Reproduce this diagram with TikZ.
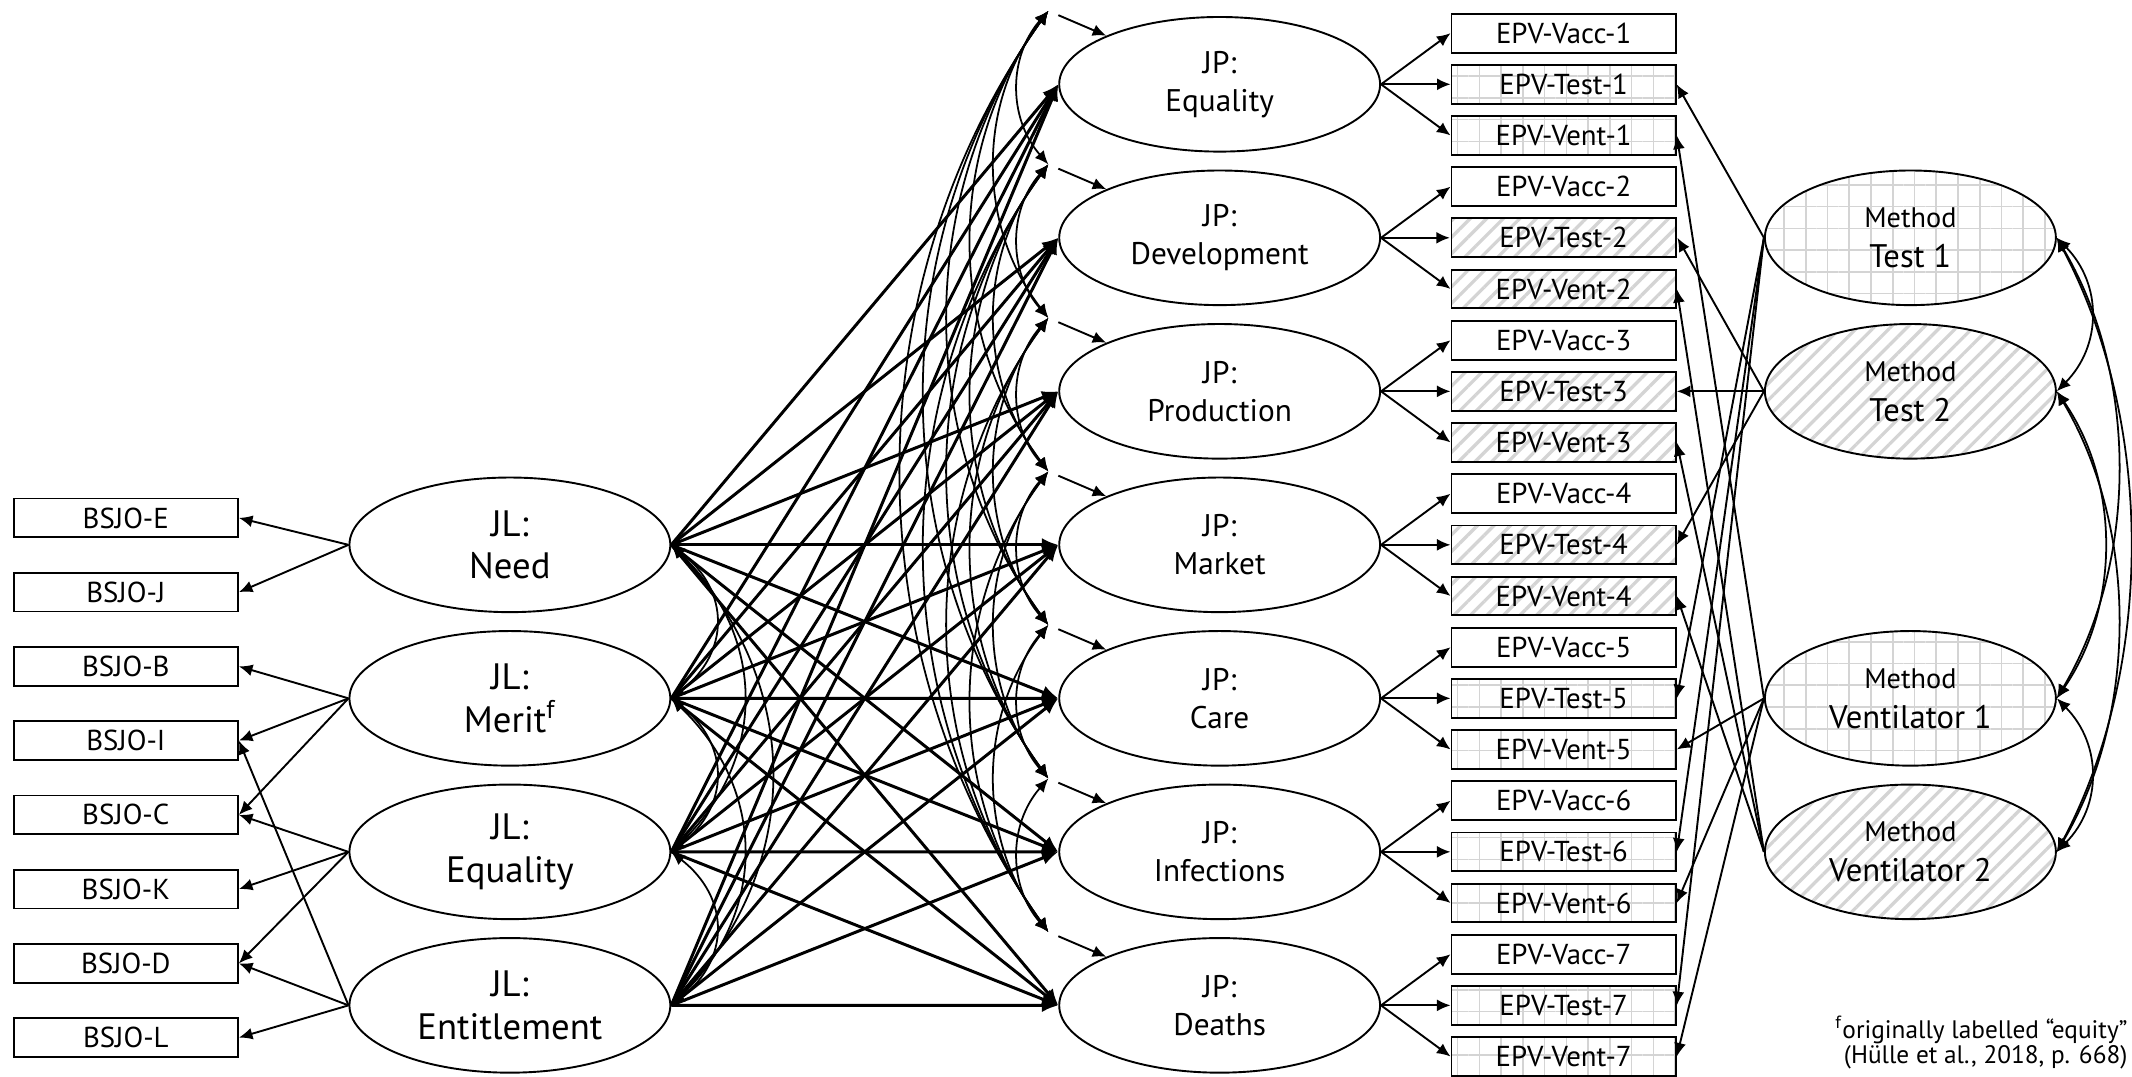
\documentclass[tikz,border=0pt]{standalone}
\usepackage{fontspec}
\setmainfont{PT Sans}
\usetikzlibrary{arrows.meta,shapes.geometric,patterns.meta}
\tikzset{
  mytip/.tip={Latex[length=5pt,width=4.4pt]},
  bigtip/.tip={Latex[length=6pt,width=5pt]},
  lat/.style={ellipse, draw, line width=0.7pt, minimum width=118pt, minimum height=49.5pt, inner sep=0pt, align=center, fill=white},
  jlfont/.style={font=\fontsize{13.5}{15.7}\selectfont},
  jpfont/.style={font=\fontsize{11.5}{14}\selectfont},
  mfont/.style={font=\fontsize{12}{14.7}\selectfont},
  obs/.style={rectangle, draw, line width=0.7pt, minimum width=82.5pt, minimum height=14.25pt, inner sep=0pt, font=\fontsize{10.6}{12}\selectfont, fill=white},
  gridfill/.style={pattern={Hatch[angle=0,distance=8pt,line width=0.6pt]}, pattern color=black!17},
  hatchfill/.style={pattern={Lines[angle=45,distance=4.3pt,line width=1.2pt]}, pattern color=black!17},
  ld/.style={line width=0.7pt, -mytip},
  reg/.style={line width=1.1pt, -bigtip},
  cov/.style={line width=0.65pt, mytip-mytip},
  fn/.style={font=\fontsize{9.3}{10}\selectfont, inner sep=0pt, anchor=base east}
}
\begin{document}
\begin{tikzpicture}[x=0.5pt,y=-0.5pt]
\useasboundingbox (0,0) rectangle (1568,792);

% BSJO indicators
\foreach \n [count=\k from 0] in {E,J,B,I,C,K,D,L}
  \node[obs] (b\n) at (92.5,{380.9+54.6*\k}) {BSJO-\n};

% JL latent variables
\node[lat,jlfont] (jl1) at (375,400.7) {JL:\\Need};
\node[lat,jlfont] (jl2) at (375,513.6) {JL:\\Merit\textsuperscript{f}};
\node[lat,jlfont] (jl3) at (375,626.5) {JL:\\Equality};
\node[lat,jlfont] (jl4) at (375,739.4) {JL:\\Entitlement};

% JP latent variables and disturbances
\foreach \lab [count=\i] in {Equality,Development,Production,Market,Care,Infections,Deaths} {
  \node[lat,jpfont] (jp\i) at (897,{62+112.9*(\i-1)}) {JP:\\\lab};
  \coordinate (e\i) at (771,{8+112.9*(\i-1)});
}

% EPV indicators
\foreach \i/\pat in {1/gridfill,2/hatchfill,3/hatchfill,4/hatchfill,5/gridfill,6/gridfill,7/gridfill} {
  \node[obs] (vacc\i) at (1150,{24.4+112.9*(\i-1)}) {EPV-Vacc-\i};
  \node[obs,\pat] (test\i) at (1150,{62+112.9*(\i-1)}) {EPV-Test-\i};
  \node[obs,\pat] (vent\i) at (1150,{99.6+112.9*(\i-1)}) {EPV-Vent-\i};
}

% Method factors
\node[lat,mfont,minimum width=107pt,gridfill] (mt1) at (1405,174.9) {{\fontsize{10.4}{12}\selectfont Method}\\Test 1};
\node[lat,mfont,minimum width=107pt,hatchfill] (mt2) at (1405,287.8) {{\fontsize{10.4}{12}\selectfont Method}\\Test 2};
\node[lat,mfont,minimum width=107pt,gridfill] (mv1) at (1405,513.6) {{\fontsize{10.4}{12}\selectfont Method}\\Ventilator 1};
\node[lat,mfont,minimum width=107pt,hatchfill] (mv2) at (1405,626.5) {{\fontsize{10.4}{12}\selectfont Method}\\Ventilator 2};

% footnote
\node[fn] (fn1) at (1565,764) {\textsuperscript{f}originally labelled “equity”};
\node[fn] (fn2) at (1565,782) {(Hülle et al., 2018, p. 668)};

% JL -> BSJO loadings
\draw[ld] (jl1.west) -- (bE.east);
\draw[ld] (jl1.west) -- (bJ.east);
\draw[ld] (jl2.west) -- (bB.east);
\draw[ld] (jl2.west) -- (bI.east);
\draw[ld] (jl2.west) -- (bC.east);
\draw[ld] (jl3.west) -- (bC.east);
\draw[ld] (jl3.west) -- (bK.east);
\draw[ld] (jl3.west) -- (bD.east);
\draw[ld] (jl4.west) -- (bD.east);
\draw[ld] (jl4.west) -- (bL.east);
\draw[ld] (jl4.west) -- (bI.east);

% JL -> JP regressions
\foreach \a in {1,...,4}
  \foreach \b in {1,...,7}
    \draw[reg] (jl\a.east) -- (jp\b.west);

% JL covariances (bulging to the right)
\foreach \a/\b in {1/2,2/3,3/4,1/3,2/4,1/4} {
  \pgfmathsetmacro\cx{4*(12+20.5*(\b-\a))/3}
  \pgfmathsetmacro\cy{0.3*112.9*(\b-\a)}
  \draw[cov] (jl\a.east) .. controls +(\cx,\cy) and +(\cx,-\cy) .. (jl\b.east);
}

% disturbances
\foreach \i in {1,...,7}
  \draw[ld,shorten <=4pt] (e\i) -- (jp\i);
\foreach \a in {1,...,6} {
  \pgfmathtruncatemacro\s{\a+1}
  \foreach \b in {\s,...,7} {
    \pgfmathsetmacro\cx{-4*(5+17.2*(\b-\a))/3}
    \pgfmathsetmacro\cy{0.3*112.9*(\b-\a)}
    \draw[cov] (e\a) .. controls +(\cx,\cy) and +(\cx,-\cy) .. (e\b);
  }
}

% JP -> EPV loadings
\foreach \i in {1,...,7} {
  \draw[ld] (jp\i.east) -- (vacc\i.west);
  \draw[ld] (jp\i.east) -- (test\i.west);
  \draw[ld] (jp\i.east) -- (vent\i.west);
}

% Method -> EPV loadings
\foreach \i in {1,5,6,7} {
  \draw[ld] (mt1.west) -- (test\i.east);
  \draw[ld] (mv1.west) -- (vent\i.east);
}
\foreach \i in {2,3,4} {
  \draw[ld] (mt2.west) -- (test\i.east);
  \draw[ld] (mv2.west) -- (vent\i.east);
}

% Method covariances (bulging to the right)
\foreach \a/\b/\bul/\ch in {mt1/mt2/25/112.9, mv1/mv2/25/112.9, mt2/mv1/35/225.8, mt1/mv1/45/338.7, mt2/mv2/45/338.7, mt1/mv2/54/451.6} {
  \pgfmathsetmacro\cx{4*\bul/3}
  \pgfmathsetmacro\cy{0.3*\ch}
  \draw[cov] (\a.east) .. controls +(\cx,\cy) and +(\cx,-\cy) .. (\b.east);
}
\end{tikzpicture}
\end{document}
